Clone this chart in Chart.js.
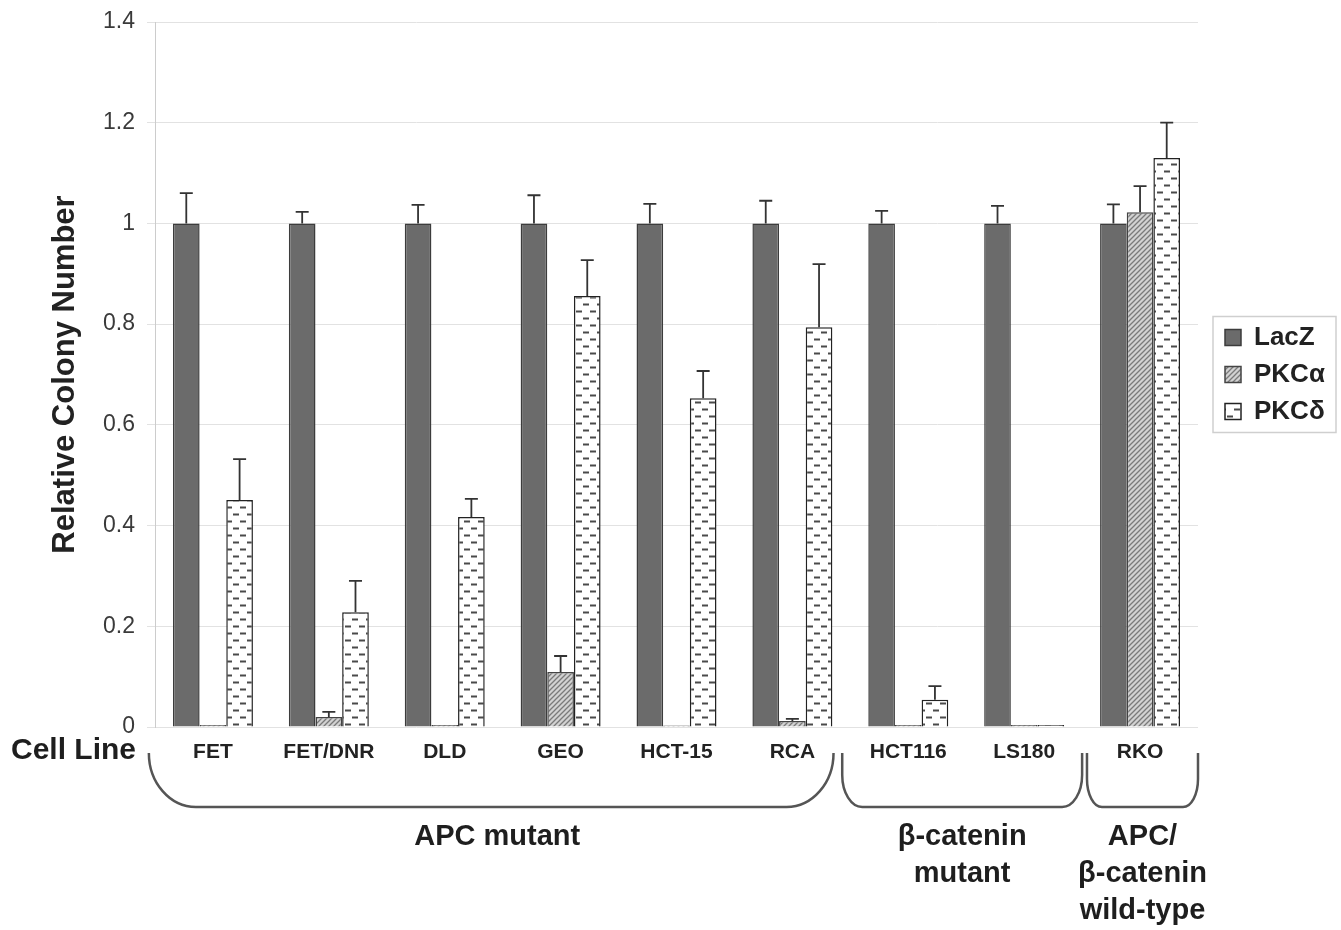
<!DOCTYPE html>
<html><head><meta charset="utf-8">
<script src="https://cdn.jsdelivr.net/npm/chart.js@4.4.0/dist/chart.umd.min.js"></script>
<style>html,body{margin:0;padding:0;background:#fff}canvas{display:block}</style>
</head><body>
<canvas id="c" width="1341" height="930"></canvas>
<script>
// ---------- data ----------
const cellLines = ['FET','FET/DNR','DLD','GEO','HCT-15','RCA','HCT116','LS180','RKO'];
const seriesNames = ['LacZ','PKCα','PKCδ'];
const lacZ        = [1, 1, 1, 1, 1, 1, 1, 1, 1];
const lacZErr     = [0.060, 0.023, 0.037, 0.056, 0.039, 0.045, 0.025, 0.035, 0.038];
const pkcAlpha    = [0.004, 0.020, 0.004, 0.109, 0.003, 0.012, 0.004, 0.004, 1.022];
const pkcAlphaErr = [0, 0.010, 0, 0.032, 0, 0.004, 0, 0, 0.052];
const pkcDelta    = [0.451, 0.228, 0.417, 0.856, 0.653, 0.794, 0.054, 0.004, 1.130];
const pkcDeltaErr = [0.081, 0.062, 0.036, 0.071, 0.054, 0.125, 0.027, 0, 0.070];
const yTicks = [0, 0.2, 0.4, 0.6, 0.8, 1, 1.2, 1.4];
const yTitle = 'Relative Colony Number';
const axisCaption = 'Cell Line';
const groupLabels = [['APC mutant'], ['β-catenin','mutant'], ['APC/','β-catenin','wild-type']];
const groupFrom = [0, 6, 8];
const groupTo   = [5, 7, 8];

// ---------- styles ----------
const FONT = "'Liberation Sans', Arial, Helvetica, sans-serif";
const braceStyle = [
  {l:-0.553, r:0.355, rx:47, ry:54},
  {l:-0.570, r:0.500, rx:20, ry:32},
  {l:-0.458, r:0.500, rx:15, ry:28}
];

function makeHatch(){
  const c=document.createElement('canvas'); c.width=c.height=5;
  const g=c.getContext('2d');
  g.fillStyle='#d2d2d2'; g.fillRect(0,0,5,5);
  g.strokeStyle='#7a7a7a'; g.lineWidth=1.3;
  g.beginPath();
  g.moveTo(0,5); g.lineTo(5,0);
  g.moveTo(-1,1); g.lineTo(1,-1);
  g.moveTo(4,6); g.lineTo(6,4);
  g.stroke();
  return g.createPattern(c,'repeat');
}
function makeDash(){
  const c=document.createElement('canvas'); c.width=14; c.height=14;
  const g=c.getContext('2d');
  g.fillStyle='#ffffff'; g.fillRect(0,0,14,14);
  g.strokeStyle='#4a4a4a'; g.lineWidth=2;
  g.beginPath();
  g.moveTo(2,3.5); g.lineTo(8,3.5);
  g.moveTo(9,10.5); g.lineTo(15,10.5);
  g.moveTo(-1,10.5); g.lineTo(1,10.5);
  g.stroke();
  return g.createPattern(c,'repeat');
}

const errorBars = {
  id:'errorBars',
  afterDatasetsDraw(chart){
    const ctx=chart.ctx, y=chart.scales.y;
    ctx.save();
    ctx.strokeStyle='#333'; ctx.lineWidth=1.8;
    chart.data.datasets.forEach((ds,i)=>{
      const meta=chart.getDatasetMeta(i);
      meta.data.forEach((bar,j)=>{
        const e=ds.errors[j]; if(!e) return;
        const yt=y.getPixelForValue(ds.data[j]+e);
        ctx.beginPath();
        ctx.moveTo(bar.x, bar.y); ctx.lineTo(bar.x, yt);
        ctx.moveTo(bar.x-6.5, yt); ctx.lineTo(bar.x+6.5, yt);
        ctx.stroke();
      });
    });
    ctx.restore();
  }
};

const legendTweak = {
  id:'legendTweak',
  beforeLayout(chart){
    const lg=chart.legend;
    if(lg && !lg._wrapped){
      const f=lg.fit.bind(lg);
      lg.fit=function(){ f(); this.width=143; };
      lg._wrapped=true;
    }
  },
  afterLayout(chart){
    const lg=chart.legend;
    if(lg){ lg.left+=16; lg.right+=16; }
  },
  afterDraw(chart){
    const lg=chart.legend; if(!lg || !lg.legendHitBoxes.length) return;
    const hb=lg.legendHitBoxes, last=hb[hb.length-1];
    const ctx=chart.ctx;
    ctx.save();
    ctx.strokeStyle='#cfcfcf'; ctx.lineWidth=1.5;
    const x0=hb[0].left-12, y0=hb[0].top-8, y1=last.top+last.height+8;
    ctx.strokeRect(x0, y0, 1336-x0, y1-y0);
    ctx.restore();
  }
};

const annotations = {
  id:'annotations',
  afterDraw(chart){
    const ctx=chart.ctx, x=chart.scales.x;
    const cw = x.getPixelForValue(1)-x.getPixelForValue(0);
    ctx.save();
    ctx.fillStyle='#1e1e1e';
    ctx.font="bold 30px "+FONT;
    ctx.textAlign='left'; ctx.textBaseline='middle';
    ctx.fillText(axisCaption, 11, 751);
    const yT=753, yB=807, k=0.5523;
    ctx.strokeStyle='#555'; ctx.lineWidth=2.5;
    groupLabels.forEach((lines,g)=>{
      const st=braceStyle[g];
      const xL=x.getPixelForValue(groupFrom[g])+st.l*cw;
      const xR=x.getPixelForValue(groupTo[g])+st.r*cw;
      const rx=st.rx, ry=st.ry;
      ctx.beginPath();
      ctx.moveTo(xL,yT);
      ctx.lineTo(xL,yB-ry);
      ctx.bezierCurveTo(xL, yB-ry+k*ry, xL+rx-k*rx, yB, xL+rx, yB);
      ctx.lineTo(xR-rx, yB);
      ctx.bezierCurveTo(xR-rx+k*rx, yB, xR, yB-ry+k*ry, xR, yB-ry);
      ctx.lineTo(xR,yT);
      ctx.stroke();
      ctx.font="bold 29px "+FONT;
      ctx.textAlign='center';
      const cx=(xL+xR)/2 + (g===0 ? 6 : 0);
      lines.forEach((t,i)=>ctx.fillText(t, cx, 837+i*37));
    });
    ctx.restore();
  }
};

new Chart(document.getElementById('c'), {
  type:'bar',
  data:{
    labels:cellLines,
    datasets:[
      {label:seriesNames[0], data:lacZ, errors:lacZErr, backgroundColor:'#6b6b6b', borderColor:'#3c3c3c', borderWidth:1.5},
      {label:seriesNames[1], data:pkcAlpha, errors:pkcAlphaErr, backgroundColor:makeHatch(), borderColor:'#444', borderWidth:1.5},
      {label:seriesNames[2], data:pkcDelta, errors:pkcDeltaErr, backgroundColor:makeDash(), borderColor:'#222', borderWidth:1.5}
    ]
  },
  options:{
    responsive:false, animation:false, devicePixelRatio:1,
    layout:{padding:{left:44, top:22, right:0, bottom:0}},
    datasets:{bar:{barPercentage:1, categoryPercentage:0.69}},
    plugins:{
      legend:{position:'right', fullSize:false,
        labels:{font:{family:FONT, size:26, weight:'bold'}, color:'#222', boxWidth:16, boxHeight:16, padding:11}},
      tooltip:{enabled:false}
    },
    scales:{
      x:{
        grid:{display:false, drawTicks:false}, border:{display:false},
        ticks:{font:{family:FONT, size:21, weight:'bold'}, color:'#222', padding:13, maxRotation:0, autoSkip:false},
        afterFit:s=>{ s.height=203; s.paddingLeft=0; s.paddingRight=0; }
      },
      y:{
        min:0, max:1.4,
        afterBuildTicks:s=>{ s.ticks=yTicks.map(v=>({value:v})); },
        grid:{color:'#e2e2e2', tickLength:8, tickColor:'#e2e2e2'},
        border:{color:'#cccccc'},
        ticks:{font:{family:FONT, size:23}, color:'#3a3a3a', padding:12, callback:v=>String(+v.toFixed(1))},
        title:{display:true, text:yTitle, font:{family:FONT, size:31, weight:'bold'}, color:'#222', padding:{top:3,bottom:4}},
        afterFit:s=>{ s.width=111; s.paddingTop=0; s.paddingBottom=0; }
      }
    }
  },
  plugins:[errorBars, legendTweak, annotations]
});
</script>
</body></html>
